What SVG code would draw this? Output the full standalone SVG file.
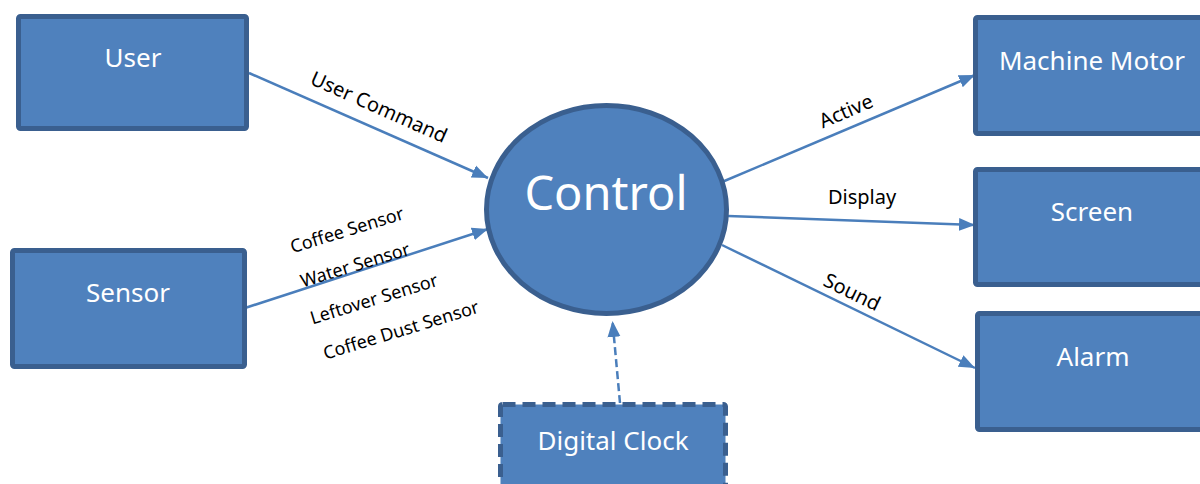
<svg xmlns="http://www.w3.org/2000/svg" width="1200" height="484" viewBox="0 0 1200 484">
<style>
.box{fill:#4f81bd;stroke:#3a5f8f;stroke-width:5}
.dash{stroke-dasharray:13 7}
.nt{fill:#ffffff;font-family:"Noto Sans","Open Sans",sans-serif;font-size:26px;text-anchor:middle}
.lbl{fill:#000000;font-family:"Noto Sans","Open Sans",sans-serif;font-size:20px;text-anchor:middle}
.sl{font-size:18px}
.conn{stroke:#4a7ebb;stroke-width:2.5;fill:none;marker-end:url(#ah)}
</style>
<defs>
<marker id="ah" markerUnits="userSpaceOnUse" markerWidth="17" markerHeight="14" refX="16" refY="7" orient="auto">
<path d="M0,0.5 L16,7 L0,13.5 z" fill="#4a7ebb"/>
</marker>
</defs>
<rect width="1200" height="484" fill="#ffffff"/>
<g id="connectors">
<line class="conn" x1="249" y1="73" x2="488" y2="178"/>
<line class="conn" x1="245" y1="308" x2="488" y2="229"/>
<line class="conn" x1="722" y1="182" x2="975" y2="75"/>
<line class="conn" x1="728" y1="216" x2="975" y2="225"/>
<line class="conn" x1="722" y1="245" x2="975" y2="368"/>
<line class="conn" x1="620" y1="403" x2="612.5" y2="321" style="stroke-dasharray:8 4"/>
<text class="lbl" transform="translate(379,107) rotate(24)" dy="0.35em">User Command</text>
<text class="lbl sl" transform="translate(347,230) rotate(-17)" dy="0.35em">Coffee Sensor</text>
<text class="lbl sl" transform="translate(355,265) rotate(-17)" dy="0.35em">Water Sensor</text>
<text class="lbl sl" transform="translate(374,299) rotate(-17)" dy="0.35em">Leftover Sensor</text>
<text class="lbl sl" transform="translate(401,330) rotate(-17)" dy="0.35em">Coffee Dust Sensor</text>
<text class="lbl" transform="translate(846,111) rotate(-23)" dy="0.35em">Active</text>
<text class="lbl" x="862" y="197" dy="0.35em">Display</text>
<text class="lbl" transform="translate(852,292) rotate(26)" dy="0.35em">Sound</text>
</g>
<g id="control">
<ellipse class="box" cx="606.5" cy="209.5" rx="120" ry="104"/>
<text class="nt" x="606" y="210" style="font-size:47px">Control</text>
</g>
<g id="user">
<rect class="box" x="18.5" y="16.5" width="228" height="112" rx="2"/>
<text class="nt" x="133" y="67">User</text>
</g>
<g id="sensor">
<rect class="box" x="12.5" y="250.5" width="232" height="116" rx="2"/>
<text class="nt" x="128" y="302">Sensor</text>
</g>
<g id="machine-motor">
<rect class="box" x="975.5" y="17.5" width="240" height="116" rx="2"/>
<text class="nt" x="1092" y="70">Machine Motor</text>
</g>
<g id="screen">
<rect class="box" x="975.5" y="169.5" width="240" height="115" rx="2"/>
<text class="nt" x="1092" y="221">Screen</text>
</g>
<g id="alarm">
<rect class="box" x="977.5" y="313.5" width="240" height="116" rx="2"/>
<text class="nt" x="1093" y="366">Alarm</text>
</g>
<g id="digital-clock">
<rect class="box dash" x="500.5" y="404.5" width="225" height="84" rx="2"/>
<text class="nt" x="613" y="450">Digital Clock</text>
</g>
</svg>
